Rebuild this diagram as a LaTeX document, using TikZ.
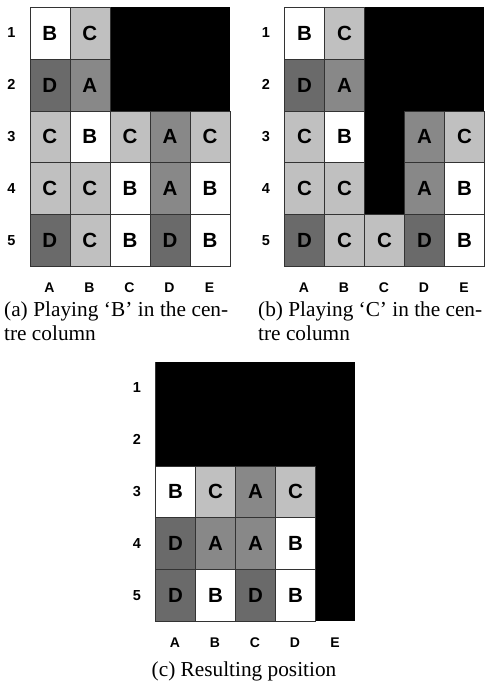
\documentclass[tikz,border=0pt]{standalone}
\usepackage{fontspec}
\setmainfont{Liberation Serif}
\setsansfont{Liberation Sans}
\definecolor{tileB}{HTML}{FFFFFF}
\definecolor{tileC}{HTML}{C0C0C0}
\definecolor{tileA}{HTML}{888888}
\definecolor{tileD}{HTML}{6A6A6A}
\definecolor{gridline}{HTML}{333333}
\tikzset{
  tile/.style={draw=gridline, line width=0.8pt, inner sep=0pt, anchor=north west,
    minimum width=40pt, minimum height=51.8pt,
    font=\sffamily\bfseries\fontsize{20.5}{20.5}\selectfont},
  rowlab/.style={font=\sffamily\bfseries\fontsize{14.5}{15}\selectfont, inner sep=0pt},
  collab/.style={font=\sffamily\bfseries\fontsize{14}{14}\selectfont, inner sep=0pt},
  captext/.style={font=\fontsize{21.3}{25}\selectfont, inner sep=0pt, anchor=base west},
}
\newcommand\drawtiles[4]{%
  \foreach \r/\c/\l in {#4}{
    \node[tile, fill=tile\l] (#1-\r-\c) at ({#2+(\c-1)*40},{#3+(\r-1)*51.8}) {\l};
  }
  \foreach \r in {1,...,5}{
    \node[rowlab] (#1-row\r) at ({#2-18},{#3+(\r-0.5)*51.8}) {\r};
  }
  \foreach \c/\n in {1/A,2/B,3/C,4/D,5/E}{
    \node[collab] (#1-col\n) at ({#2+(\c-0.5)*40},{#3+5*51.8+22}) {\n};
  }
}
\begin{document}
\begin{tikzpicture}[x=1pt,y=-1pt]
\useasboundingbox (0,0) rectangle (484,684);
% ---------- (a)
\fill[black] (109.5,7) rectangle (229.5,110.6);
\drawtiles{a}{29.5}{7}{1/1/B,1/2/C,2/1/D,2/2/A,
  3/1/C,3/2/B,3/3/C,3/4/A,3/5/C,
  4/1/C,4/2/C,4/3/B,4/4/A,4/5/B,
  5/1/D,5/2/C,5/3/B,5/4/D,5/5/B}
\node[captext] (capa1) at (4,316) {\makebox[224pt][s]{(a) Playing ‘B’ in the cen-}};
\node[captext] (capa2) at (4,340) {tre column};
% ---------- (b)
\fill[black] (364,7) rectangle (484,110.6);
\fill[black] (364,110.6) rectangle (404,214.2);
\drawtiles{b}{284}{7}{1/1/B,1/2/C,2/1/D,2/2/A,
  3/1/C,3/2/B,3/4/A,3/5/C,
  4/1/C,4/2/C,4/4/A,4/5/B,
  5/1/D,5/2/C,5/3/C,5/4/D,5/5/B}
\node[captext] (capb1) at (258,316) {\makebox[224pt][s]{(b) Playing ‘C’ in the cen-}};
\node[captext] (capb2) at (258,340) {tre column};
% ---------- (c)
\fill[black] (155,362) rectangle (355,465.6);
\fill[black] (315,465.6) rectangle (355,621);
\draw[gridline, line width=0.8pt] (155,362) -- (155,465.6);
\drawtiles{c}{155}{362}{3/1/B,3/2/C,3/3/A,3/4/C,
  4/1/D,4/2/A,4/3/A,4/4/B,
  5/1/D,5/2/B,5/3/D,5/4/B}
\node[captext, anchor=base] (capc) at (244,676) {(c) Resulting position};
\end{tikzpicture}
\end{document}
